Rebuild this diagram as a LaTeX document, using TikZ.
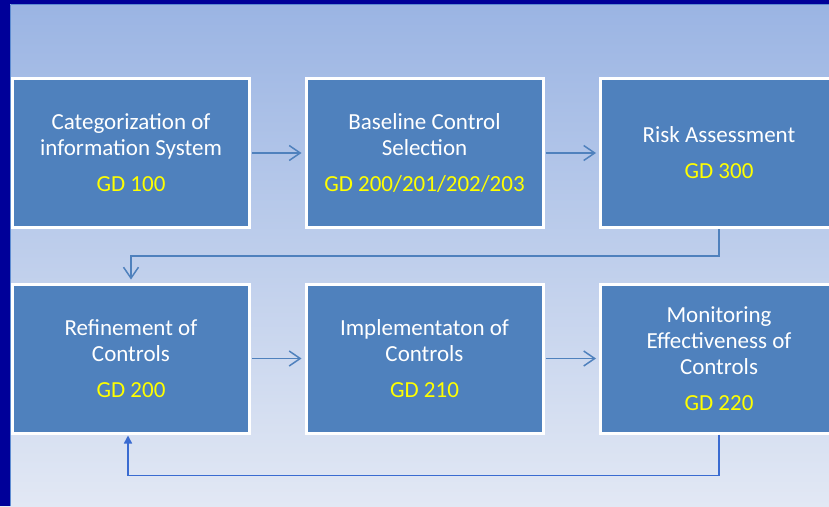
\documentclass[tikz,border=0pt]{standalone}
\usepackage{fontspec}
\setmainfont{Carlito}
\usetikzlibrary{arrows.meta,calc}
\definecolor{navy}{HTML}{000099}
\definecolor{boxblue}{HTML}{4F81BD}
\definecolor{bgtop}{HTML}{9AB4E3}
\definecolor{bgbot}{HTML}{E2E8F4}
\definecolor{edgeblue}{HTML}{5E8CD2}
\definecolor{fbblue}{HTML}{3A6BD1}
\definecolor{gdyellow}{HTML}{FFFF00}
\tikzset{
  stepbox/.style={draw=white, line width=3pt, fill=boxblue, minimum width=237pt,
    minimum height=149pt, inner sep=0pt, align=center, text=white,
    font=\fontsize{23}{26}\selectfont},
  arr/.style={draw=boxblue, line width=1.5pt, -{Straight Barb[length=11pt,width=15pt,line width=1.5pt]}},
  fb/.style={draw=fbblue, line width=1.5pt, -{Triangle[length=8pt,width=8pt]}},
}
\newcommand{\gd}[1]{\textcolor{gdyellow}{#1}}
\begin{document}
\begin{tikzpicture}[x=1pt,y=-1pt]
\useasboundingbox (0,0) rectangle (829,506);
\shade[top color=bgtop, bottom color=bgbot] (0,0) rectangle (829,506);
\fill[navy] (0,0) rectangle (829,4);
\fill[navy] (0,0) rectangle (10,506);
\draw[edgeblue, line width=1pt] (10.5,4.5) -- (829,4.5);
\draw[edgeblue, line width=1pt] (10.5,4.5) -- (10.5,506);

\node[stepbox] (b1) at (131,153) {Categorization of\\information System\\[10pt]\gd{GD 100}};
\node[stepbox] (b2) at (424.5,153) {Baseline Control\\Selection\\[10pt]\gd{GD 200/201/202/203}};
\node[stepbox] (b3) at (719,153) {Risk Assessment\\[10pt]\gd{GD 300}};
\node[stepbox] (b4) at (131,358.5) {Refinement of\\Controls\\[10pt]\gd{GD 200}};
\node[stepbox] (b5) at (424.5,358.5) {Implementaton of\\Controls\\[10pt]\gd{GD 210}};
\node[stepbox] (b6) at (719,358.5) {Monitoring\\Effectiveness of\\Controls\\[10pt]\gd{GD 220}};

\draw[arr, shorten <=1pt, shorten >=3pt] (b1.east) -- (b2.west);
\draw[arr, shorten <=1pt, shorten >=3pt] (b2.east) -- (b3.west);
\draw[arr, shorten <=1pt, shorten >=3pt] (b4.east) -- (b5.west);
\draw[arr, shorten <=1pt, shorten >=3pt] (b5.east) -- (b6.west);
\draw[arr, shorten >=3pt] (b3.south) -- ++(0,27) -| (b4.north);
\draw[fb, shorten >=1pt] (b6.south) -- ++(0,41) -| ([xshift=-3pt]b4.south);
\end{tikzpicture}
\end{document}
